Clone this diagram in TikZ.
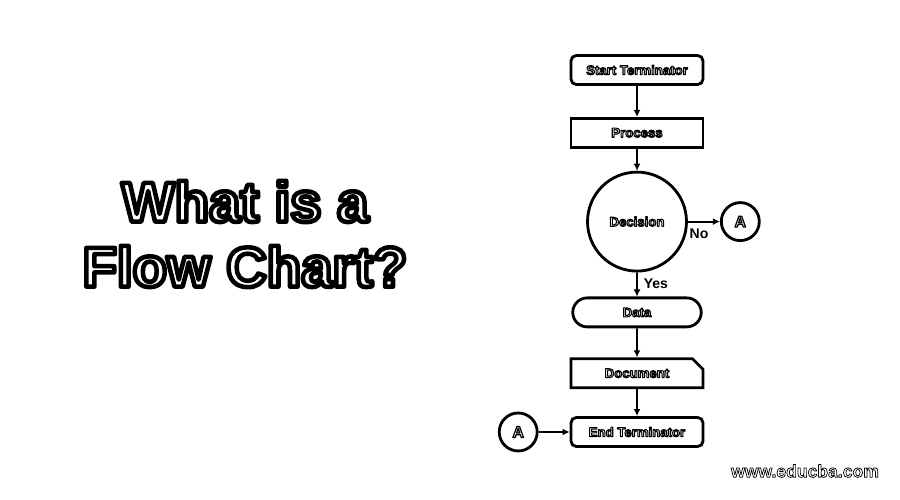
\documentclass[tikz,border=0pt]{standalone}
\usepackage{fontspec}
\setmainfont{Liberation Sans}
\usepackage{tikz}
\usetikzlibrary{arrows.meta, positioning, shapes.misc}
\newcommand{\outl}[2][0.6]{\textcolor{white}{\special{pdf:literal direct 2 Tr #1 w 1 j 0 G}#2\special{pdf:literal direct 0 Tr}}}

\begin{document}
\begin{tikzpicture}[
    x=0.02cm, y=-0.02cm,
    box/.style={rectangle, draw, line width=1.6pt, fill=white,
                minimum height=0.58cm, minimum width=2.64cm, inner sep=1pt,
                font=\fontsize{7.5}{9}\selectfont\bfseries},
    term/.style={box, rounded corners=3pt},
    pill/.style={box, rounded rectangle},
    docu/.style={box, chamfered rectangle, chamfered rectangle corners=north east,
                 chamfered rectangle xsep=3pt, chamfered rectangle ysep=3pt},
    conn/.style={circle, draw, line width=1.6pt, fill=white, inner sep=0pt,
                 minimum size=0.76cm, font=\fontsize{9}{10}\selectfont\bfseries},
    arr/.style={-{Latex[length=4pt, width=4pt]}, line width=1.1pt},
    tag/.style={font=\fontsize{8}{9}\selectfont\bfseries},
]
    \useasboundingbox (0,0) rectangle (900,500);

    % Title
    \node[align=center, font=\fontsize{32}{37}\selectfont\bfseries] (title) at (245,234)
        {\outl[2.6]{What is a}\\\outl[2.6]{Flow Chart?}};

    % Main column
    \node[term] (start) at (637,70) {\outl{Start Terminator}};
    \node[box, below=0.62cm of start] (proc) {\outl{Process}};
    \node[circle, draw, line width=1.6pt, minimum size=1.98cm, inner sep=0pt,
          font=\fontsize{7.5}{9}\selectfont\bfseries,
          below=0.44cm of proc] (dec) {\outl{Decision}};
    \node[pill, below=0.48cm of dec] (data) {\outl{Data}};
    \node[docu, below=0.58cm of data] (doc) {\outl{Document}};
    \node[term, below=0.54cm of doc] (stop) {\outl{End Terminator}};

    % Connectors A
    \node[conn, right=0.64cm of dec] (conA) {\outl[0.7]{A}};
    \node[conn, left=0.62cm of stop] (conB) {\outl[0.7]{A}};

    % Wiring
    \draw[arr] (start) -- (proc);
    \draw[arr] (proc) -- (dec);
    \draw[arr] (dec) -- (data) node[pos=0.45, right, tag] {Yes};
    \draw[arr] (dec) -- (conA) node[pos=0.35, below, tag] {No};
    \draw[arr] (data) -- (doc);
    \draw[arr] (doc) -- (stop);
    \draw[arr] (conB) -- (stop);

    % Footer
    \node[font=\fontsize{10}{12}\selectfont\bfseries] (web) at (805,471)
        {\outl[0.4]{www.educba.com}};
\end{tikzpicture}
\end{document}
